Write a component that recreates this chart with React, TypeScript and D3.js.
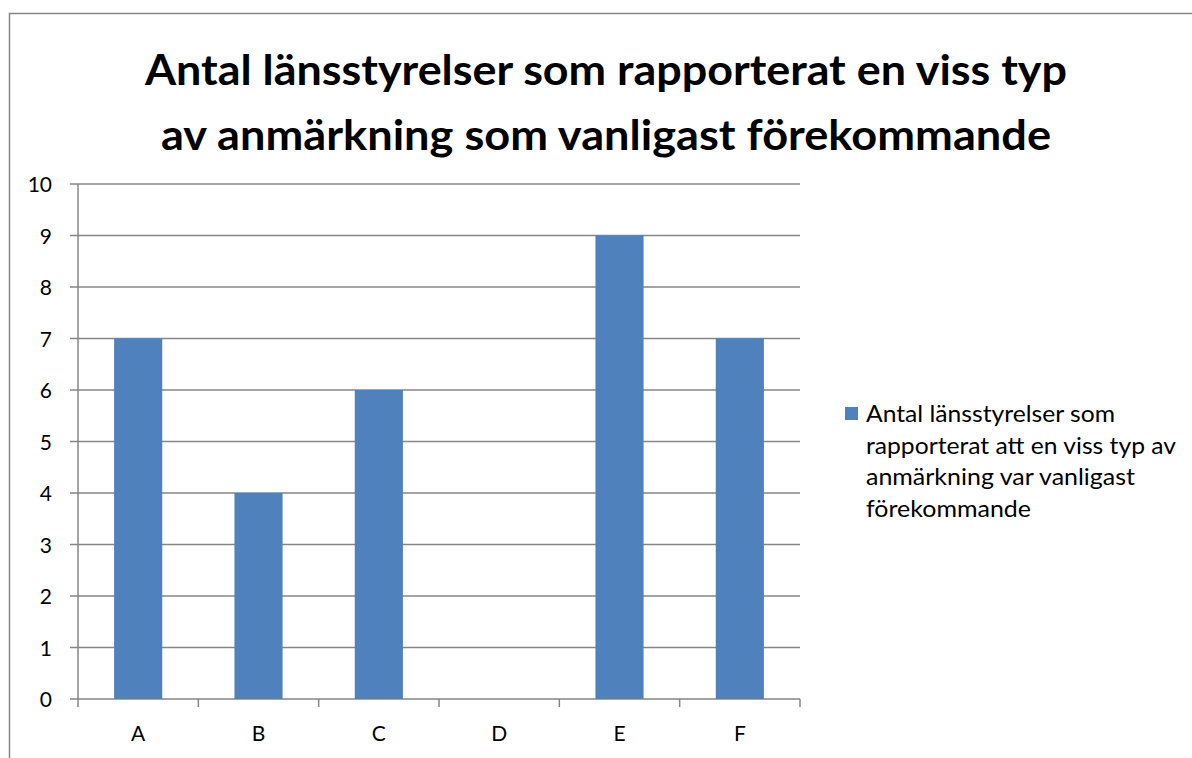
import React from "react";
import * as d3 from "d3";

// values
const categories = ["A", "B", "C", "D", "E", "F"];
const counts = [7, 4, 6, 0, 9, 7];
const yTicks = [0, 1, 2, 3, 4, 5, 6, 7, 8, 9, 10];
const titleLines = [
  "Antal länsstyrelser som rapporterat en viss typ",
  "av anmärkning som vanligast förekommande",
];
const legendLines = [
  "Antal länsstyrelser som",
  "rapporterat att en viss typ av",
  "anmärkning var vanligast",
  "förekommande",
];

const W = 1192;
const H = 758;
const font = "Lato, 'Open Sans', sans-serif";
const barColor = "#4f81bd";
const gridColor = "#868686";

// rough text widths in the reference, used to keep the Lato text in the same space
const titleWidths = [922, 890];
const legendWidths = [249, 310, 269, 165];

export default function App() {
  const plot = { left: 78, right: 800, top: 184, bottom: 699 };

  const x = d3
    .scaleBand()
    .domain(categories)
    .range([plot.left, plot.right])
    .paddingInner(0.6)
    .paddingOuter(0.3);
  const y = d3.scaleLinear().domain([0, 10]).range([plot.bottom, plot.top]);

  // category separators (Excel style ticks between categories)
  const step = (plot.right - plot.left) / categories.length;
  const sepX = d3.range(categories.length + 1).map((i) => plot.left + i * step);

  return (
    <svg
      width={W}
      height={H}
      style={{ position: "absolute", left: 0, top: 0, background: "#fff" }}
    >
      <rect x={9.5} y={13.5} width={W} height={H} fill="#fff" stroke={gridColor} strokeWidth={1.5} />

      {titleLines.map((t, i) => (
        <text
          key={i}
          x={606}
          y={85 + i * 65}
          textAnchor="middle"
          fontFamily={font}
          fontWeight="bold"
          fontSize={42}
          textLength={titleWidths[i]}
          lengthAdjust="spacingAndGlyphs"
          fill="#000"
        >
          {t}
        </text>
      ))}

      {/* horizontal gridlines */}
      {yTicks.map((t) => (
        <g key={t}>
          <line x1={plot.left - 8} x2={plot.right} y1={y(t)} y2={y(t)} stroke={gridColor} strokeWidth={1.5} />
          <text
            x={52}
            y={y(t) + 8}
            textAnchor="end"
            fontFamily={font}
            fontSize={21}
            fill="#000"
          >
            {t}
          </text>
        </g>
      ))}

      {/* y axis */}
      <line x1={plot.left} x2={plot.left} y1={plot.top} y2={plot.bottom} stroke={gridColor} strokeWidth={1.5} />

      {/* category ticks */}
      {sepX.map((sx, i) => (
        <line key={i} x1={sx} x2={sx} y1={plot.bottom} y2={plot.bottom + 8} stroke={gridColor} strokeWidth={1.5} />
      ))}

      {/* bars */}
      {categories.map((c, i) =>
        counts[i] > 0 ? (
          <rect
            key={c}
            x={x(c)}
            y={y(counts[i])}
            width={x.bandwidth()}
            height={plot.bottom - y(counts[i])}
            fill={barColor}
          />
        ) : null
      )}

      {categories.map((c) => (
        <text
          key={c}
          x={(x(c) as number) + x.bandwidth() / 2}
          y={741}
          textAnchor="middle"
          fontFamily={font}
          fontSize={21}
          fill="#000"
        >
          {c}
        </text>
      ))}

      {/* legend */}
      <rect x={845} y={407} width={13} height={13} fill={barColor} />
      {legendLines.map((l, i) => (
        <text
          key={i}
          x={866}
          y={422 + i * 31.7}
          fontFamily={font}
          fontSize={24}
          textLength={legendWidths[i]}
          lengthAdjust="spacingAndGlyphs"
          fill="#000"
        >
          {l}
        </text>
      ))}
    </svg>
  );
}
